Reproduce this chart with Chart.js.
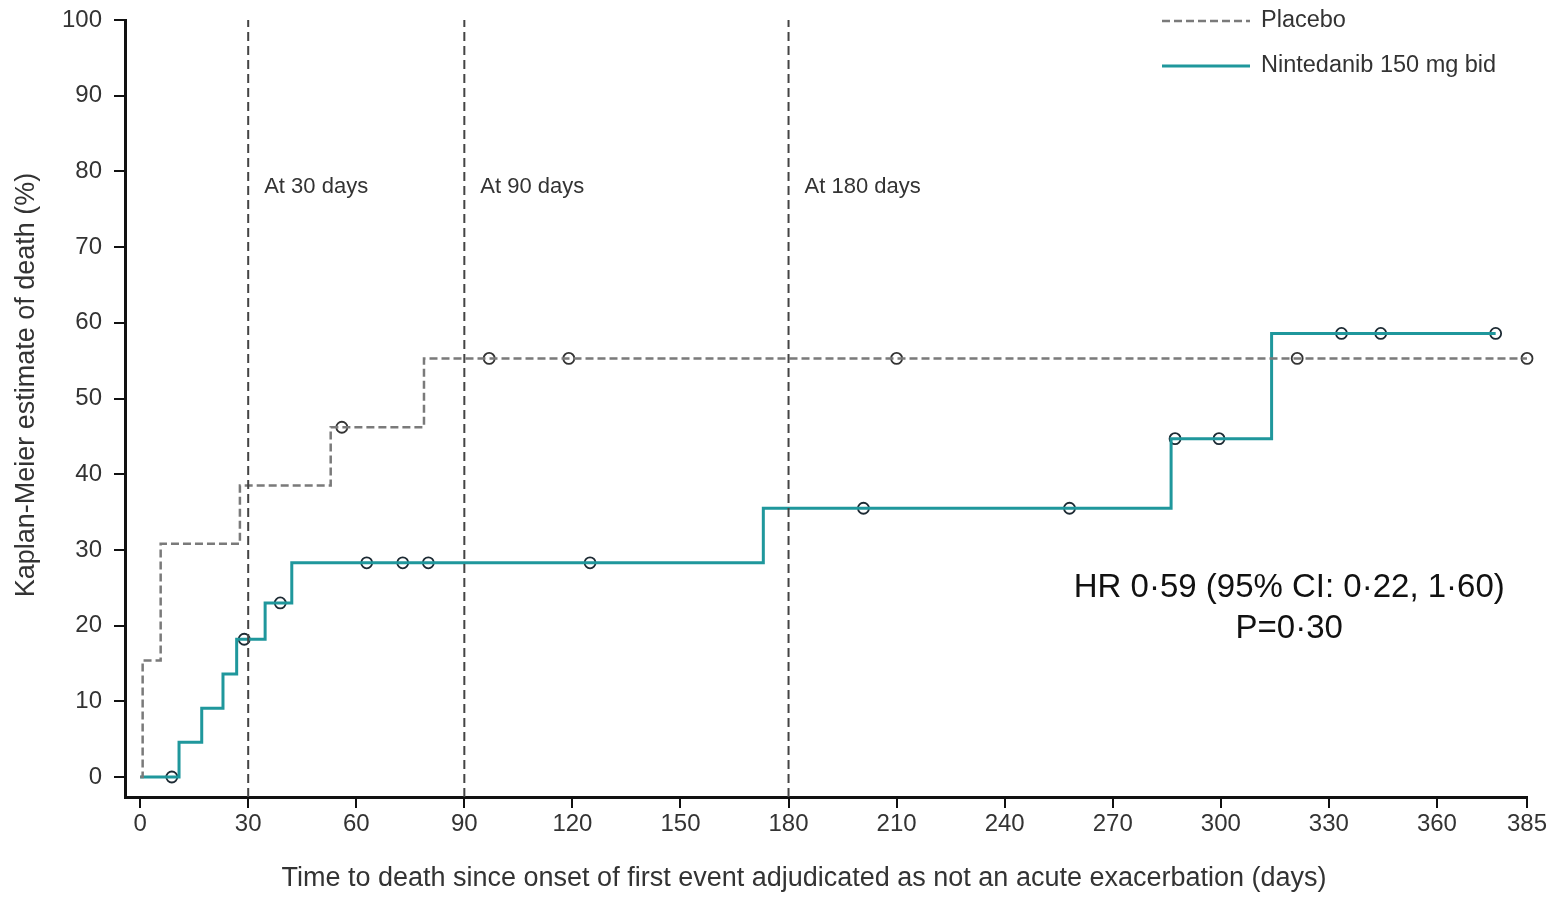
<!DOCTYPE html>
<html>
<head>
<meta charset="utf-8">
<script src="https://cdn.jsdelivr.net/npm/chart.js@4.4.1/dist/chart.umd.min.js"></script>
<style>
  body { margin: 0; background: #fff; }
  #wrap { width: 1562px; height: 897px; }
</style>
</head>
<body>
<div id="wrap"><canvas id="km" width="1562" height="897"></canvas></div>
<script>
// axis ticks
var xTicks = [0, 30, 60, 90, 120, 150, 180, 210, 240, 270, 300, 330, 360, 385];
var yTicks = [0, 10, 20, 30, 40, 50, 60, 70, 80, 90, 100];

// Kaplan-Meier curves (days, % death)
var placeboDays  = [0, 0.7, 5.7, 27.7, 52.9, 78.8, 385];
var placeboDeath = [0, 15.4, 30.8, 38.5, 46.2, 55.3, 55.3];
var ninDays  = [0, 10.8, 17.1, 23.0, 26.8, 34.7, 42.1, 173.0, 286.2, 314.1, 376.3];
var ninDeath = [0, 4.6, 9.1, 13.6, 18.2, 23.0, 28.3, 35.5, 44.7, 58.6, 58.6];

// censored observations
var placeboCensorDays  = [56, 96.9, 119, 210, 321.2, 385];
var placeboCensorDeath = [46.2, 55.3, 55.3, 55.3, 55.3, 55.3];
var ninCensorDays  = [8.8, 28.9, 38.9, 62.9, 72.9, 80, 124.9, 200.8, 258, 287.3, 299.5, 333.5, 344.4, 376.3];
var ninCensorDeath = [0, 18.2, 23.0, 28.3, 28.3, 28.3, 28.3, 35.5, 35.5, 44.7, 44.7, 58.6, 58.6, 58.6];

// reference lines
var refDays = [30, 90, 180];
var refLabels = ['At 30 days', 'At 90 days', 'At 180 days'];

var seriesNames = ['Placebo', 'Nintedanib 150 mg bid'];
var hrText = ['HR 0\u00b759 (95% CI: 0\u00b722, 1\u00b760)', 'P=0\u00b730'];
var xTitle = 'Time to death since onset of first event adjudicated as not an acute exacerbation (days)';
var yTitle = 'Kaplan-Meier estimate of death (%)';

var X_MIN = -4.2, X_MAX = 385, Y_MIN = -2.64, Y_MAX = 100;
var TEAL = '#1f979c';
var GREY = '#7a7a7a';
var FONT = '"Liberation Sans", Arial, sans-serif';

function pts(xs, ys) {
  return xs.map(function (x, i) { return { x: x, y: ys[i] }; });
}

var datasets = [];
refDays.forEach(function (d) {
  datasets.push({
    data: [{ x: d, y: Y_MIN }, { x: d, y: Y_MAX }],
    showLine: true, borderColor: '#444', borderWidth: 2,
    borderDash: [9, 5], pointRadius: 0
  });
});
datasets.push({
  label: seriesNames[0], data: pts(placeboDays, placeboDeath),
  showLine: true, stepped: 'before', borderColor: GREY, borderWidth: 2.5,
  borderDash: [8, 4], pointRadius: 0
});
datasets.push({
  label: seriesNames[1], data: pts(ninDays, ninDeath),
  showLine: true, stepped: 'before', borderColor: TEAL, borderWidth: 3,
  pointRadius: 0
});
datasets.push({
  data: pts(placeboCensorDays, placeboCensorDeath), clip: false,
  pointRadius: 5.5, pointBorderWidth: 1.8, pointBorderColor: '#333',
  pointBackgroundColor: 'rgba(255,255,255,0)'
});
datasets.push({
  data: pts(ninCensorDays, ninCensorDeath), clip: false,
  pointRadius: 5.5, pointBorderWidth: 1.8, pointBorderColor: '#1c2a33',
  pointBackgroundColor: 'rgba(255,255,255,0)'
});

var annotations = {
  id: 'annotations',
  afterDatasetsDraw: function (chart) {
    var ctx = chart.ctx;
    var xs = chart.scales.x, ys = chart.scales.y;
    ctx.save();
    ctx.fillStyle = '#333';
    ctx.font = '22px ' + FONT;
    ctx.textBaseline = 'middle';
    ctx.textAlign = 'left';
    refDays.forEach(function (d, i) {
      ctx.fillText(refLabels[i], xs.getPixelForValue(d) + 16, ys.getPixelForValue(78));
    });

    ctx.fillStyle = '#111';
    ctx.font = '33px ' + FONT;
    ctx.textAlign = 'center';
    ctx.fillText(hrText[0], xs.getPixelForValue(319), ys.getPixelForValue(25));
    ctx.fillText(hrText[1], xs.getPixelForValue(319), ys.getPixelForValue(19.6));

    // axis titles
    ctx.fillStyle = '#333';
    ctx.font = '27px ' + FONT;
    ctx.fillText(xTitle, 804, 879);
    ctx.save();
    ctx.translate(27, 385);
    ctx.rotate(-Math.PI / 2);
    ctx.fillText(yTitle, 0, 0);
    ctx.restore();

    // legend
    var lx0 = 1162, lx1 = 1250, ly = [21, 66];
    ctx.lineWidth = 2.5;
    ctx.strokeStyle = GREY;
    ctx.setLineDash([8, 4]);
    ctx.beginPath(); ctx.moveTo(lx0, ly[0]); ctx.lineTo(lx1, ly[0]); ctx.stroke();
    ctx.setLineDash([]);
    ctx.strokeStyle = TEAL;
    ctx.lineWidth = 3;
    ctx.beginPath(); ctx.moveTo(lx0, ly[1]); ctx.lineTo(lx1, ly[1]); ctx.stroke();
    ctx.fillStyle = '#333';
    ctx.font = '23.5px ' + FONT;
    ctx.textAlign = 'left';
    ctx.fillText(seriesNames[0], 1261, ly[0]);
    ctx.fillText(seriesNames[1], 1261, ly[1]);
    ctx.restore();
  }
};

new Chart(document.getElementById('km'), {
  type: 'scatter',
  data: { datasets: datasets },
  plugins: [annotations],
  options: {
    responsive: false,
    animation: false,
    layout: { padding: { top: 20, right: 35, left: 12, bottom: 0 } },
    plugins: { legend: { display: false }, tooltip: { enabled: false } },
    scales: {
      x: {
        type: 'linear', min: X_MIN, max: X_MAX,
        afterBuildTicks: function (scale) {
          scale.ticks = xTicks.map(function (v) { return { value: v }; });
        },
        afterFit: function (scale) {
          scale.height = 100;
          scale.paddingLeft = 0;
          scale.paddingRight = 0;
        },
        grid: { drawOnChartArea: false, drawTicks: true, tickLength: 11, color: '#111', lineWidth: 2 },
        border: { display: true, color: '#111', width: 3 },
        ticks: { color: '#333', font: { size: 24, family: FONT }, padding: 2, maxRotation: 0 }
      },
      y: {
        type: 'linear', min: Y_MIN, max: Y_MAX,
        afterBuildTicks: function (scale) {
          scale.ticks = yTicks.map(function (v) { return { value: v }; });
        },
        afterFit: function (scale) {
          scale.width = 113;
          scale.paddingTop = 0;
          scale.paddingBottom = 0;
        },
        grid: { drawOnChartArea: false, drawTicks: true, tickLength: 11, color: '#111', lineWidth: 2 },
        border: { display: true, color: '#111', width: 3 },
        ticks: { color: '#333', font: { size: 24, family: FONT }, padding: 12 }
      }
    }
  }
});
</script>
</body>
</html>
